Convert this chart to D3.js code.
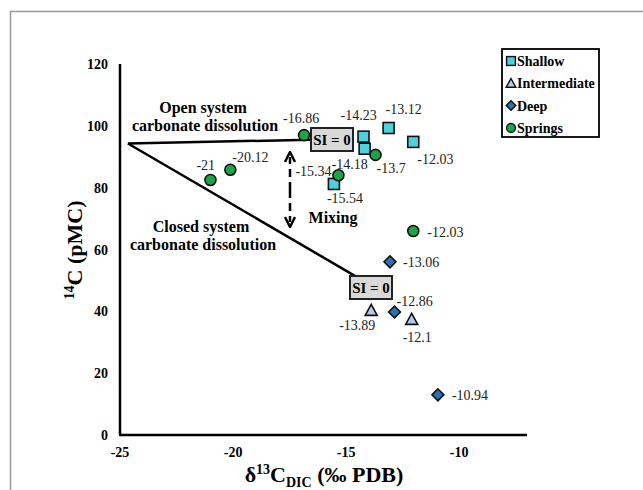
<!DOCTYPE html>
<html>
<head>
<meta charset="utf-8">
<script src="https://cdn.jsdelivr.net/npm/d3@7"></script>
<style>
body { margin: 0; background: #fff; }
</style>
</head>
<body>
<svg id="chart" width="643" height="490" font-family="'Liberation Serif', 'DejaVu Serif', serif"></svg>
<script>
// values
var groups = ["Shallow", "Intermediate", "Deep", "Springs"];
var groupFill = ["#4fd0dc", "#b7c9ea", "#2e70b4", "#1fa34a"];

var shallowX = [-14.23, -14.18, -13.12, -12.03, -15.54];
var shallowY = [96.5, 92.6, 99.3, 94.8, 81.2];
var shallowLab = ["-14.23", "-14.18", "-13.12", "-12.03", "-15.54"];

var interX = [-13.89, -12.1];
var interY = [40.3, 37.4];
var interLab = ["-13.89", "-12.1"];

var deepX = [-13.06, -12.86, -10.94];
var deepY = [56, 39.8, 13];
var deepLab = ["-13.06", "-12.86", "-10.94"];

var springX = [-16.86, -21, -20.12, -13.7, -15.34, -12.03];
var springY = [97, 82.5, 85.8, 90.6, 84, 66];
var springLab = ["-16.86", "-21", "-20.12", "-13.7", "-15.34", "-12.03"];

var xTicks = [-25, -20, -15, -10];
var yTicks = [0, 20, 40, 60, 80, 100, 120];

// open / closed system lines
var openLine = [[-24.65, 94.3], [-16.55, 95.5]];
var closedLine = [[-24.65, 94.3], [-14.5, 51]];

var svg = d3.select("#chart");

// outer frame
svg.append("path").attr("d", "M10.5,490 V11.5 H643")
  .attr("fill", "none").attr("stroke", "#999").attr("stroke-width", 1.5);

var x = d3.scaleLinear().domain([-25, -7]).range([120, 527]);
var y = d3.scaleLinear().domain([0, 120]).range([435, 64]);

// axes
svg.append("line").attr("x1", x(-25)).attr("x2", x(-25)).attr("y1", y(120)).attr("y2", y(0))
  .attr("stroke", "#000").attr("stroke-width", 2.5);
svg.append("line").attr("x1", x(-25) - 1).attr("x2", x(-7)).attr("y1", y(0)).attr("y2", y(0))
  .attr("stroke", "#000").attr("stroke-width", 2.5);

svg.selectAll("text.yt").data(yTicks).enter().append("text")
  .attr("class", "yt")
  .attr("x", 108).attr("y", function(d) { return y(d) + 5; })
  .attr("text-anchor", "end").attr("font-size", 14).attr("font-weight", "bold")
  .text(function(d) { return d; });

svg.selectAll("text.xt").data(xTicks).enter().append("text")
  .attr("class", "xt")
  .attr("x", function(d) { return x(d); }).attr("y", 457)
  .attr("text-anchor", "middle").attr("font-size", 14).attr("font-weight", "bold")
  .text(function(d) { return d; });

// axis titles
var xt = svg.append("text").attr("x", 324).attr("y", 482)
  .attr("text-anchor", "middle").attr("font-size", 22).attr("font-weight", "bold");
xt.append("tspan").text("δ");
xt.append("tspan").attr("font-size", 14).attr("dy", -8).text("13");
xt.append("tspan").attr("dy", 8).text("C");
xt.append("tspan").attr("font-size", 14).attr("dy", 5).text("DIC");
xt.append("tspan").attr("dy", -5).text(" (‰ PDB)");

var yt = svg.append("text").attr("transform", "translate(82,250) rotate(-90)")
  .attr("text-anchor", "middle").attr("font-size", 22).attr("font-weight", "bold");
yt.append("tspan").attr("font-size", 14).attr("dy", -8).text("14");
yt.append("tspan").attr("dy", 8).text("C (pMC)");

// system lines
var line = d3.line().x(function(d) { return x(d[0]); }).y(function(d) { return y(d[1]); });
[openLine, closedLine].forEach(function(l) {
  svg.append("path").attr("d", line(l)).attr("fill", "none")
    .attr("stroke", "#000").attr("stroke-width", 2.5);
});

function siBox(x0, y0) {
  svg.append("rect").attr("x", x0).attr("y", y0).attr("width", 42).attr("height", 23)
    .attr("fill", "#d9d9d9").attr("stroke", "#222").attr("stroke-width", 2);
  svg.append("text").attr("x", x0 + 21).attr("y", y0 + 16.5)
    .attr("text-anchor", "middle").attr("font-size", 15).attr("font-weight", "bold")
    .text("SI = 0");
}
siBox(311, 128);
siBox(350, 276);

// annotations
function boldText(tx, ty, s, size) {
  svg.append("text").attr("x", tx).attr("y", ty).attr("text-anchor", "middle")
    .attr("font-size", size).attr("font-weight", "bold").text(s);
}
boldText(203, 113, "Open system", 16);
boldText(205, 131, "carbonate dissolution", 16);
boldText(201, 232, "Closed system", 16);
boldText(203, 250, "carbonate dissolution", 16);
boldText(333, 223, "Mixing", 16);

// mixing arrow
svg.append("defs").append("marker").attr("id", "ah")
  .attr("viewBox", "0 0 10 10").attr("refX", 5).attr("refY", 5)
  .attr("markerWidth", 5).attr("markerHeight", 5).attr("orient", "auto")
  .append("path").attr("d", "M1,1 L9,5 L1,9").attr("fill", "none")
  .attr("stroke", "#000").attr("stroke-width", 2);
svg.append("line").attr("x1", 290).attr("x2", 290).attr("y1", 190).attr("y2", 157)
  .attr("stroke", "#000").attr("stroke-width", 2.5).attr("stroke-dasharray", "8,5")
  .attr("marker-end", "url(#ah)");
svg.append("line").attr("x1", 290).attr("x2", 290).attr("y1", 190).attr("y2", 222)
  .attr("stroke", "#000").attr("stroke-width", 2.5).attr("stroke-dasharray", "8,5")
  .attr("marker-end", "url(#ah)");

// points
var series = [
  {xs: shallowX, ys: shallowY, labs: shallowLab, g: 0,
   off: [[-23, -17], [-33, 20], [-3, -14], [4, 22], [-7, 19]]},
  {xs: interX, ys: interY, labs: interLab, g: 1,
   off: [[-32, 20], [-9, 23]]},
  {xs: deepX, ys: deepY, labs: deepLab, g: 2,
   off: [[13, 5], [2, -6], [14, 5]]},
  {xs: springX, ys: springY, labs: springLab, g: 3,
   off: [[-21, -12], [-14, -10], [2, -8], [1, 18], [-43, 1], [14, 6]]}
];

function marker(g, sel) {
  if (g == 0) {
    sel.append("rect").attr("x", -5.5).attr("y", -5.5).attr("width", 11).attr("height", 11);
  } else if (g == 1) {
    sel.append("path").attr("d", "M0,-6 L6,5 L-6,5 Z");
  } else if (g == 2) {
    sel.append("rect").attr("x", -4.2).attr("y", -4.2).attr("width", 8.4).attr("height", 8.4)
      .attr("transform", "rotate(45)");
  } else {
    sel.append("circle").attr("r", 5.5);
  }
}

var pointLabels = [];
series.forEach(function(s) {
  s.xs.forEach(function(v, i) {
    var px = x(v), py = y(s.ys[i]);
    var g = svg.append("g").attr("transform", "translate(" + px + "," + py + ")")
      .attr("fill", groupFill[s.g]).attr("stroke", "#111").attr("stroke-width", 1.6);
    marker(s.g, g);
    pointLabels.push({x: px + s.off[i][0], y: py + s.off[i][1], t: s.labs[i]});
  });
});

svg.selectAll("text.pl").data(pointLabels).enter().append("text")
  .attr("class", "pl")
  .attr("x", function(d) { return d.x; }).attr("y", function(d) { return d.y; })
  .attr("font-size", 14).attr("fill", "#222")
  .text(function(d) { return d.t; });

// legend
svg.append("rect").attr("x", 502).attr("y", 49).attr("width", 97).attr("height", 88)
  .attr("fill", "#fff").attr("stroke", "#000").attr("stroke-width", 1.8);
var leg = svg.selectAll("g.leg").data(groups).enter().append("g")
  .attr("class", "leg")
  .attr("transform", function(d, i) { return "translate(511," + (61 + i * 22.3) + ")"; });
leg.each(function(d, i) {
  var m = d3.select(this).append("g").attr("transform", "scale(0.8)")
    .attr("fill", groupFill[i]).attr("stroke", "#111").attr("stroke-width", 1.8);
  marker(i, m);
});
leg.append("text").attr("x", 6).attr("y", 5)
  .attr("font-size", 14).attr("font-weight", "bold")
  .text(function(d) { return d; });
</script>
</body>
</html>
